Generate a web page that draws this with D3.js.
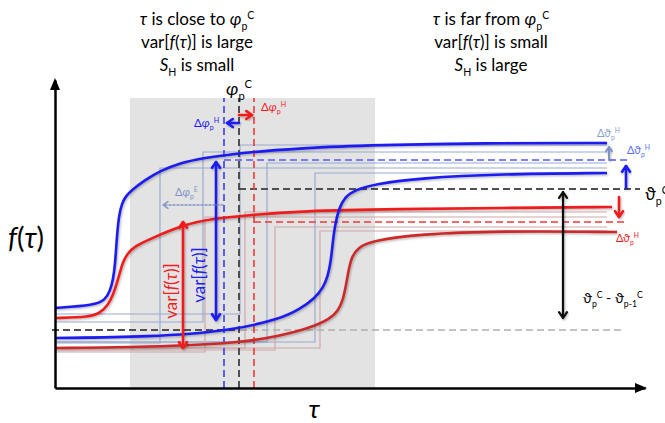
<!DOCTYPE html>
<html><head><meta charset="utf-8">
<script src="https://cdn.jsdelivr.net/npm/d3@7"></script>
<style>body{margin:0;background:#fff}svg{display:block}text{font-family:Lato,"DejaVu Sans",sans-serif}</style>
</head><body><svg id="c" width="665" height="423"></svg>
<script>
// ---- data (τ = horizontal units, f = vertical units) ----
const blueEarly = [[0,80],[40,83],[50,88],[55,97],[58,108],[60,122],[62,153],[64,173],[67,185],[71,192],[77,198],[90,208],[105,217],[125,225],[148,230],[185,235],[245,240],[325,243],[425,245],[552,245]];
const redEarly  = [[0,70],[35,71],[45,75],[53,83],[58,93],[62,105],[65,116],[68,126],[72,134],[80,142],[95,149],[128,163],[155,169],[195,173],[245,177],[345,179],[445,180],[557,181]];
const blueLate  = [[0,50],[95,51],[175,57],[225,69],[245,79],[260,90],[268,100],[273,112],[276,128],[278,148],[280,163],[284,180],[290,191],[300,198],[320,204],[365,210],[445,214],[552,215]];
const redLate   = [[0,40],[95,41],[185,45],[225,52],[255,60],[275,69],[283,77],[288,88],[291,103],[294,120],[297,132],[303,140],[315,147],[365,154],[445,157],[562,156]];
// thin ensemble steps: [τ step, f low, f high]
const blueSteps = [[105,45,220],[148,66,236],[185,74,243],[212,46,225],[260,46,215]];
const redSteps  = [[150,36,171],[190,40,176],[220,38,161],[265,40,157]];
const stepEnd = 552;
const phiC = 184, phiBlue = 169, phiRed = 199;     // τ of vertical dashed lines
const thetaC = 199, thetaBlue = 228, thetaRed = 166, thetaPrev = 58; // f levels
const band = [75, 320, 290];                        // gray region τ0, τ1, top f

const x = d3.scaleLinear().domain([0, 590]).range([55, 645]);
const y = d3.scaleLinear().domain([0, 308]).range([388, 80]);
const svg = d3.select('#c');

const BLUE = '#1c1cf0', RED = '#ee1c1c', DRED = '#cc2a2a', LBLUE = '#9aaad0', LRED = '#cfa8a8';

const defs = svg.append('defs');
defs.append('filter').attr('id','sh').attr('x','-20%').attr('y','-20%').attr('width','140%').attr('height','140%')
  .append('feDropShadow').attr('dx',1).attr('dy',1.2).attr('stdDeviation',1).attr('flood-color','#000').attr('flood-opacity',0.3);

// gray band
svg.append('rect').attr('x', x(band[0])).attr('y', y(band[2]))
  .attr('width', x(band[1]) - x(band[0])).attr('height', y(0) - y(band[2])).attr('fill', '#e3e3e3');

// thin steps
function stepPath(s){ return d3.line()([[x(0),y(s[1])],[x(s[0]),y(s[1])],[x(s[0]),y(s[2])],[x(stepEnd),y(s[2])]]); }
svg.selectAll('.bs').data(blueSteps).join('path').attr('d', stepPath).attr('fill','none').attr('stroke',LBLUE).attr('stroke-width',1.2);
svg.selectAll('.rs').data(redSteps).join('path').attr('d', stepPath).attr('fill','none').attr('stroke',LRED).attr('stroke-width',1.2);

// dashed lines
function hline(f, t0, t1, col, w, dash){ svg.append('line').attr('x1',x(t0)).attr('x2',x(t1)).attr('y1',y(f)).attr('y2',y(f)).attr('stroke',col).attr('stroke-width',w).attr('stroke-dasharray',dash); }
function vline(t, f0, f1, col, w, dash){ svg.append('line').attr('x1',x(t)).attr('x2',x(t)).attr('y1',y(f0)).attr('y2',y(f1)).attr('stroke',col).attr('stroke-width',w).attr('stroke-dasharray',dash); }
hline(thetaPrev, 185, 568, '#b0b0b0', 1.6, '7,4');
hline(thetaPrev, -3, 185, '#505050', 1.8, '7,4');
hline(thetaC, phiC, 585, '#505050', 1.8, '7,4');
hline(thetaBlue, phiBlue, 573, '#5a5af5', 1.6, '7,4');
hline(thetaRed, phiRed, 572, '#ee3a3a', 1.6, '7,4');
vline(phiBlue, 0, 290, '#3a3af5', 1.6, '7,4');
vline(phiC, 0, 290, '#404040', 1.8, '7,4');
vline(phiRed, 0, 290, '#ee3a3a', 1.6, '7,4');

// curves
const line = d3.line().x(d => x(d[0])).y(d => y(d[1])).curve(d3.curveBasis);
[[blueEarly,BLUE],[redEarly,RED],[blueLate,BLUE],[redLate,DRED]].forEach(([d,c]) =>
  svg.append('path').attr('d', line(d)).attr('fill','none').attr('stroke',c).attr('stroke-width',2.6).attr('filter','url(#sh)'));

// axes
const ax = svg.append('g').attr('transform',`translate(0,${y(0)})`).call(d3.axisBottom(x).tickValues([]).tickSizeOuter(0));
const ay = svg.append('g').attr('transform',`translate(${x(0)},0)`).call(d3.axisLeft(y).tickValues([]).tickSizeOuter(0));
[ax, ay].forEach(g => g.select('.domain').attr('stroke','#000').attr('stroke-width',2.5));
svg.append('path').attr('d',`M${x(590)+2},${y(0)} l-12,-5 l0,10 z`).attr('fill','#000');
svg.append('path').attr('d',`M${x(0)},${y(308)-2} l-5,12 l10,0 z`).attr('fill','#000');

// arrows (chevron heads)
function arrow(x1,y1,x2,y2,col,w,both,dash,hs){
  hs = hs || 7;
  const g = svg.append('g').attr('stroke',col).attr('stroke-width',w).attr('fill','none').attr('stroke-linecap','round').attr('stroke-linejoin','round');
  if (!dash) g.attr('filter','url(#sh)');
  g.append('line').attr('x1',x1).attr('y1',y1).attr('x2',x2).attr('y2',y2).attr('stroke-dasharray',dash||null);
  const head = (ax_,ay_,bx,by) => { const a = Math.atan2(by-ay_, bx-ax_);
    const p1=[bx-hs*Math.cos(a-0.6), by-hs*Math.sin(a-0.6)], p2=[bx-hs*Math.cos(a+0.6), by-hs*Math.sin(a+0.6)];
    g.append('path').attr('d',`M${p1}L${bx},${by}L${p2}`); };
  head(x1,y1,x2,y2); if (both) head(x2,y2,x1,y1);
}
arrow(x(161), y(68), x(161), y(226), BLUE, 2.6, true);
arrow(x(128), y(166), x(128), y(40), RED, 2.6, true);
arrow(x(508), y(196), x(508), y(70), '#111', 2.2, true);
arrow(x(phiC), 123, x(phiBlue)+3, 123, BLUE, 2.6);
arrow(x(phiC), 115, x(phiRed)-2, 115, RED, 2.6);
arrow(x(phiBlue)-1, y(183), x(108), y(183), '#8090c8', 1.4, false, '2,2', 6);
arrow(x(571), y(thetaC)-1, x(571), y(thetaBlue)+6, BLUE, 2.6);
arrow(x(564), y(thetaC)+8, x(564), y(thetaRed)-5, RED, 2.6);
arrow(x(554), y(thetaBlue), x(554), y(thetaBlue)-13, '#7d93c8', 2, false, null, 5);

// rich text helper
function rich(px, py, segs, size, col, anchor, rot){
  const t = svg.append('text').attr('x',px).attr('y',py).attr('font-size',size).attr('fill',col).attr('text-anchor',anchor||'start');
  if (rot) t.attr('transform',`rotate(${rot},${px},${py})`);
  let cur = 0;
  segs.forEach(s => { const off = s.sub ? size*0.28 : s.sup ? -size*0.38 : 0;
    const ts = t.append('tspan').text(s.t).attr('dy', off-cur); cur = off;
    if (s.sub || s.sup) ts.attr('font-size', size*0.62);
    if (s.it) ts.attr('font-style','italic'); });
  return t;
}
const T = (t,o) => Object.assign({t}, o||{});
const headL = [[T('τ',{it:1}),T(' is close to '),T('φ',{it:1}),T('p',{sub:1}),T('C',{sup:1})],
               [T('var['),T('f',{it:1}),T('('),T('τ',{it:1}),T(')] is large')],
               [T('S',{it:1}),T('H',{sub:1}),T(' is small')]];
const headR = [[T('τ',{it:1}),T(' is far from '),T('φ',{it:1}),T('p',{sub:1}),T('C',{sup:1})],
               [T('var['),T('f',{it:1}),T('('),T('τ',{it:1}),T(')] is small')],
               [T('S',{it:1}),T('H',{sub:1}),T(' is large')]];
headL.forEach((s,i) => rich(197, 25 + i*23, s, 17, '#000', 'middle'));
headR.forEach((s,i) => rich(491, 25 + i*23, s, 17, '#000', 'middle'));

rich(226, 95, [T('φ',{it:1}),T('p',{sub:1}),T('C',{sup:1})], 18, '#000');
rich(194, 127, [T('Δ'),T('φ',{it:1}),T('p',{sub:1}),T('H',{sup:1})], 11.5, BLUE);
rich(261, 111, [T('Δ'),T('φ',{it:1}),T('p',{sub:1}),T('H',{sup:1})], 11.5, RED);
rich(175, 196, [T('Δ'),T('φ',{it:1}),T('p',{sub:1}),T('E',{sup:1})], 11, '#7d93c8');
rich(177, 291, [T('var['),T('f',{it:1}),T('('),T('τ',{it:1}),T(')]')], 17, RED, 'middle', -90);
rich(205, 275, [T('var['),T('f',{it:1}),T('('),T('τ',{it:1}),T(')]')], 17, BLUE, 'middle', -90);
rich(597, 137, [T('Δϑ'),T('p',{sub:1}),T('H',{sup:1})], 11, '#8aa0d0');
rich(627, 154, [T('Δϑ'),T('p',{sub:1}),T('H',{sup:1})], 11, '#5a6ef0');
rich(616, 242, [T('Δϑ'),T('p',{sub:1}),T('H',{sup:1})], 11, RED);
rich(645, 200, [T('ϑ'),T('p',{sub:1}),T('C',{sup:1})], 17, '#000');
rich(583, 303, [T('ϑ'),T('p',{sub:1}),T('C',{sup:1}),T(' - ϑ'),T('p-1',{sub:1}),T('C',{sup:1})], 14, '#000');
rich(8, 248, [T('f',{it:1}),T('('),T('τ',{it:1}),T(')')], 28, '#000');
rich(314, 418, [T('τ',{it:1})], 26, '#000', 'middle');
</script></body></html>
